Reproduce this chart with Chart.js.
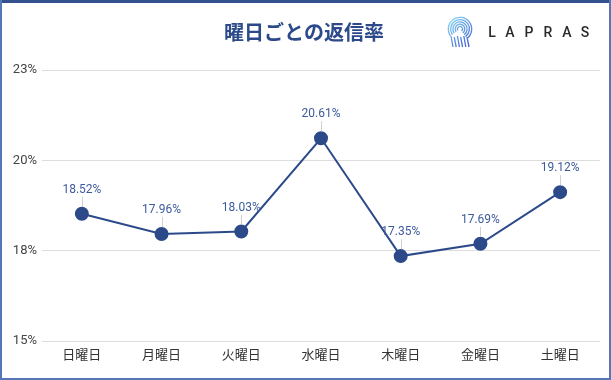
<!DOCTYPE html>
<html>
<head>
<meta charset="utf-8">
<script src="https://cdn.jsdelivr.net/npm/chart.js@4"></script>
<style>
html,body{margin:0;padding:0;background:#fff;}
#wrap{width:611px;height:380px;position:relative;}
canvas{display:block;}
</style>
</head>
<body>
<div id="wrap"><canvas id="c" width="611" height="380"></canvas></div>
<script>
const chartTitle = '曜日ごとの返信率';
const categories = ['日曜日','月曜日','火曜日','水曜日','木曜日','金曜日','土曜日'];
const replyRates = [18.52, 17.96, 18.03, 20.61, 17.35, 17.69, 19.12];
const yTickValues = [15, 17.5, 20, 22.5];
const yTickLabels = ['15%', '18%', '20%', '23%'];
const logoText = 'LAPRAS';

const FONT = "Roboto, 'Noto Sans CJK JP', sans-serif";
const NAVY = '#2c4a8a';

const decor = {
  id: 'decor',
  beforeDraw(chart) {
    const ctx = chart.ctx;
    ctx.save();
    ctx.fillStyle = '#fff';
    ctx.fillRect(0, 0, chart.width, chart.height);
    ctx.restore();
  },
  afterDatasetsDraw(chart) {
    const ctx = chart.ctx;
    const meta = chart.getDatasetMeta(0);
    ctx.save();
    meta.data.forEach((pt, i) => {
      const x = pt.x, y = pt.y;
      ctx.strokeStyle = '#d0d0d0';
      ctx.lineWidth = 1;
      ctx.beginPath();
      ctx.moveTo(Math.round(x) + 0.5, y - 17);
      ctx.lineTo(Math.round(x) + 0.5, y - 7);
      ctx.stroke();
      ctx.fillStyle = '#3d5a9e';
      ctx.font = '12px ' + FONT;
      ctx.textAlign = 'center';
      ctx.textBaseline = 'middle';
      ctx.fillText(replyRates[i].toFixed(2) + '%', x, y - 24);
    });
    ctx.restore();
  },
  afterDraw(chart) {
    const ctx = chart.ctx;
    ctx.save();
    // title
    ctx.fillStyle = NAVY;
    ctx.font = "bold 20px 'Noto Sans CJK JP', sans-serif";
    ctx.textAlign = 'center';
    ctx.textBaseline = 'middle';
    ctx.fillText(chartTitle, 304, 32);
    // logo icon
    const g = ctx.createLinearGradient(447, 18, 472, 46);
    g.addColorStop(0, '#8fe0f5');
    g.addColorStop(1, '#3a56d0');
    ctx.strokeStyle = g;
    ctx.lineWidth = 1.3;
    const cx = 460, cy = 29;
    for (let r = 2.5; r <= 12; r += 2.3) {
      ctx.beginPath();
      ctx.arc(cx, cy, r, Math.PI * 0.8, Math.PI * 2.3);
      ctx.stroke();
    }
    for (let k = 0; k < 6; k++) {
      ctx.beginPath();
      ctx.moveTo(451 + k * 3.2, 36 + (k % 2));
      ctx.lineTo(453 + k * 3.2, 47);
      ctx.stroke();
    }
    // logo text
    ctx.fillStyle = '#2a2a2a';
    ctx.font = '500 14px ' + FONT;
    ctx.textAlign = 'center';
    ctx.textBaseline = 'middle';
    const xs = [492, 510, 529, 548, 567, 585];
    for (let i = 0; i < logoText.length; i++) ctx.fillText(logoText[i], xs[i], 33);
    // frame
    ctx.fillStyle = '#34518f';
    ctx.fillRect(0, 0, chart.width, 3);
    ctx.fillStyle = '#5577b8';
    ctx.fillRect(0, 0, 2, chart.height);
    ctx.fillRect(chart.width - 2, 0, 2, chart.height);
    ctx.fillRect(0, chart.height - 2, chart.width, 2);
    ctx.restore();
  }
};

new Chart(document.getElementById('c'), {
  type: 'line',
  data: {
    labels: categories,
    datasets: [{
      data: replyRates,
      borderColor: NAVY,
      backgroundColor: NAVY,
      borderWidth: 2,
      pointRadius: 6,
      pointHoverRadius: 6,
      pointBackgroundColor: NAVY,
      pointBorderColor: NAVY,
      tension: 0
    }]
  },
  options: {
    responsive: false,
    animation: false,
    devicePixelRatio: 1,
    layout: { padding: { top: 70, right: 11, left: 0, bottom: 0 } },
    plugins: { legend: { display: false }, tooltip: { enabled: false }, title: { display: false } },
    scales: {
      x: {
        offset: true,
        grid: { display: false, drawTicks: false },
        border: { display: false },
        ticks: { color: '#333', font: { family: FONT, size: 13 }, padding: 7, maxRotation: 0 },
        afterFit(s) { s.height = 39; }
      },
      y: {
        min: 15, max: 22.5,
        afterBuildTicks(s) { s.ticks = yTickValues.map(v => ({ value: v })); },
        grid: { color: '#dddddd', drawTicks: false, lineWidth: 1 },
        border: { display: false },
        ticks: {
          color: '#444', font: { family: FONT, size: 13 }, padding: 5,
          callback: (v) => { const i = yTickValues.indexOf(v); return i >= 0 ? yTickLabels[i] : ''; }
        },
        afterFit(s) { s.width = 42; }
      }
    }
  },
  plugins: [decor]
});
</script>
</body>
</html>
